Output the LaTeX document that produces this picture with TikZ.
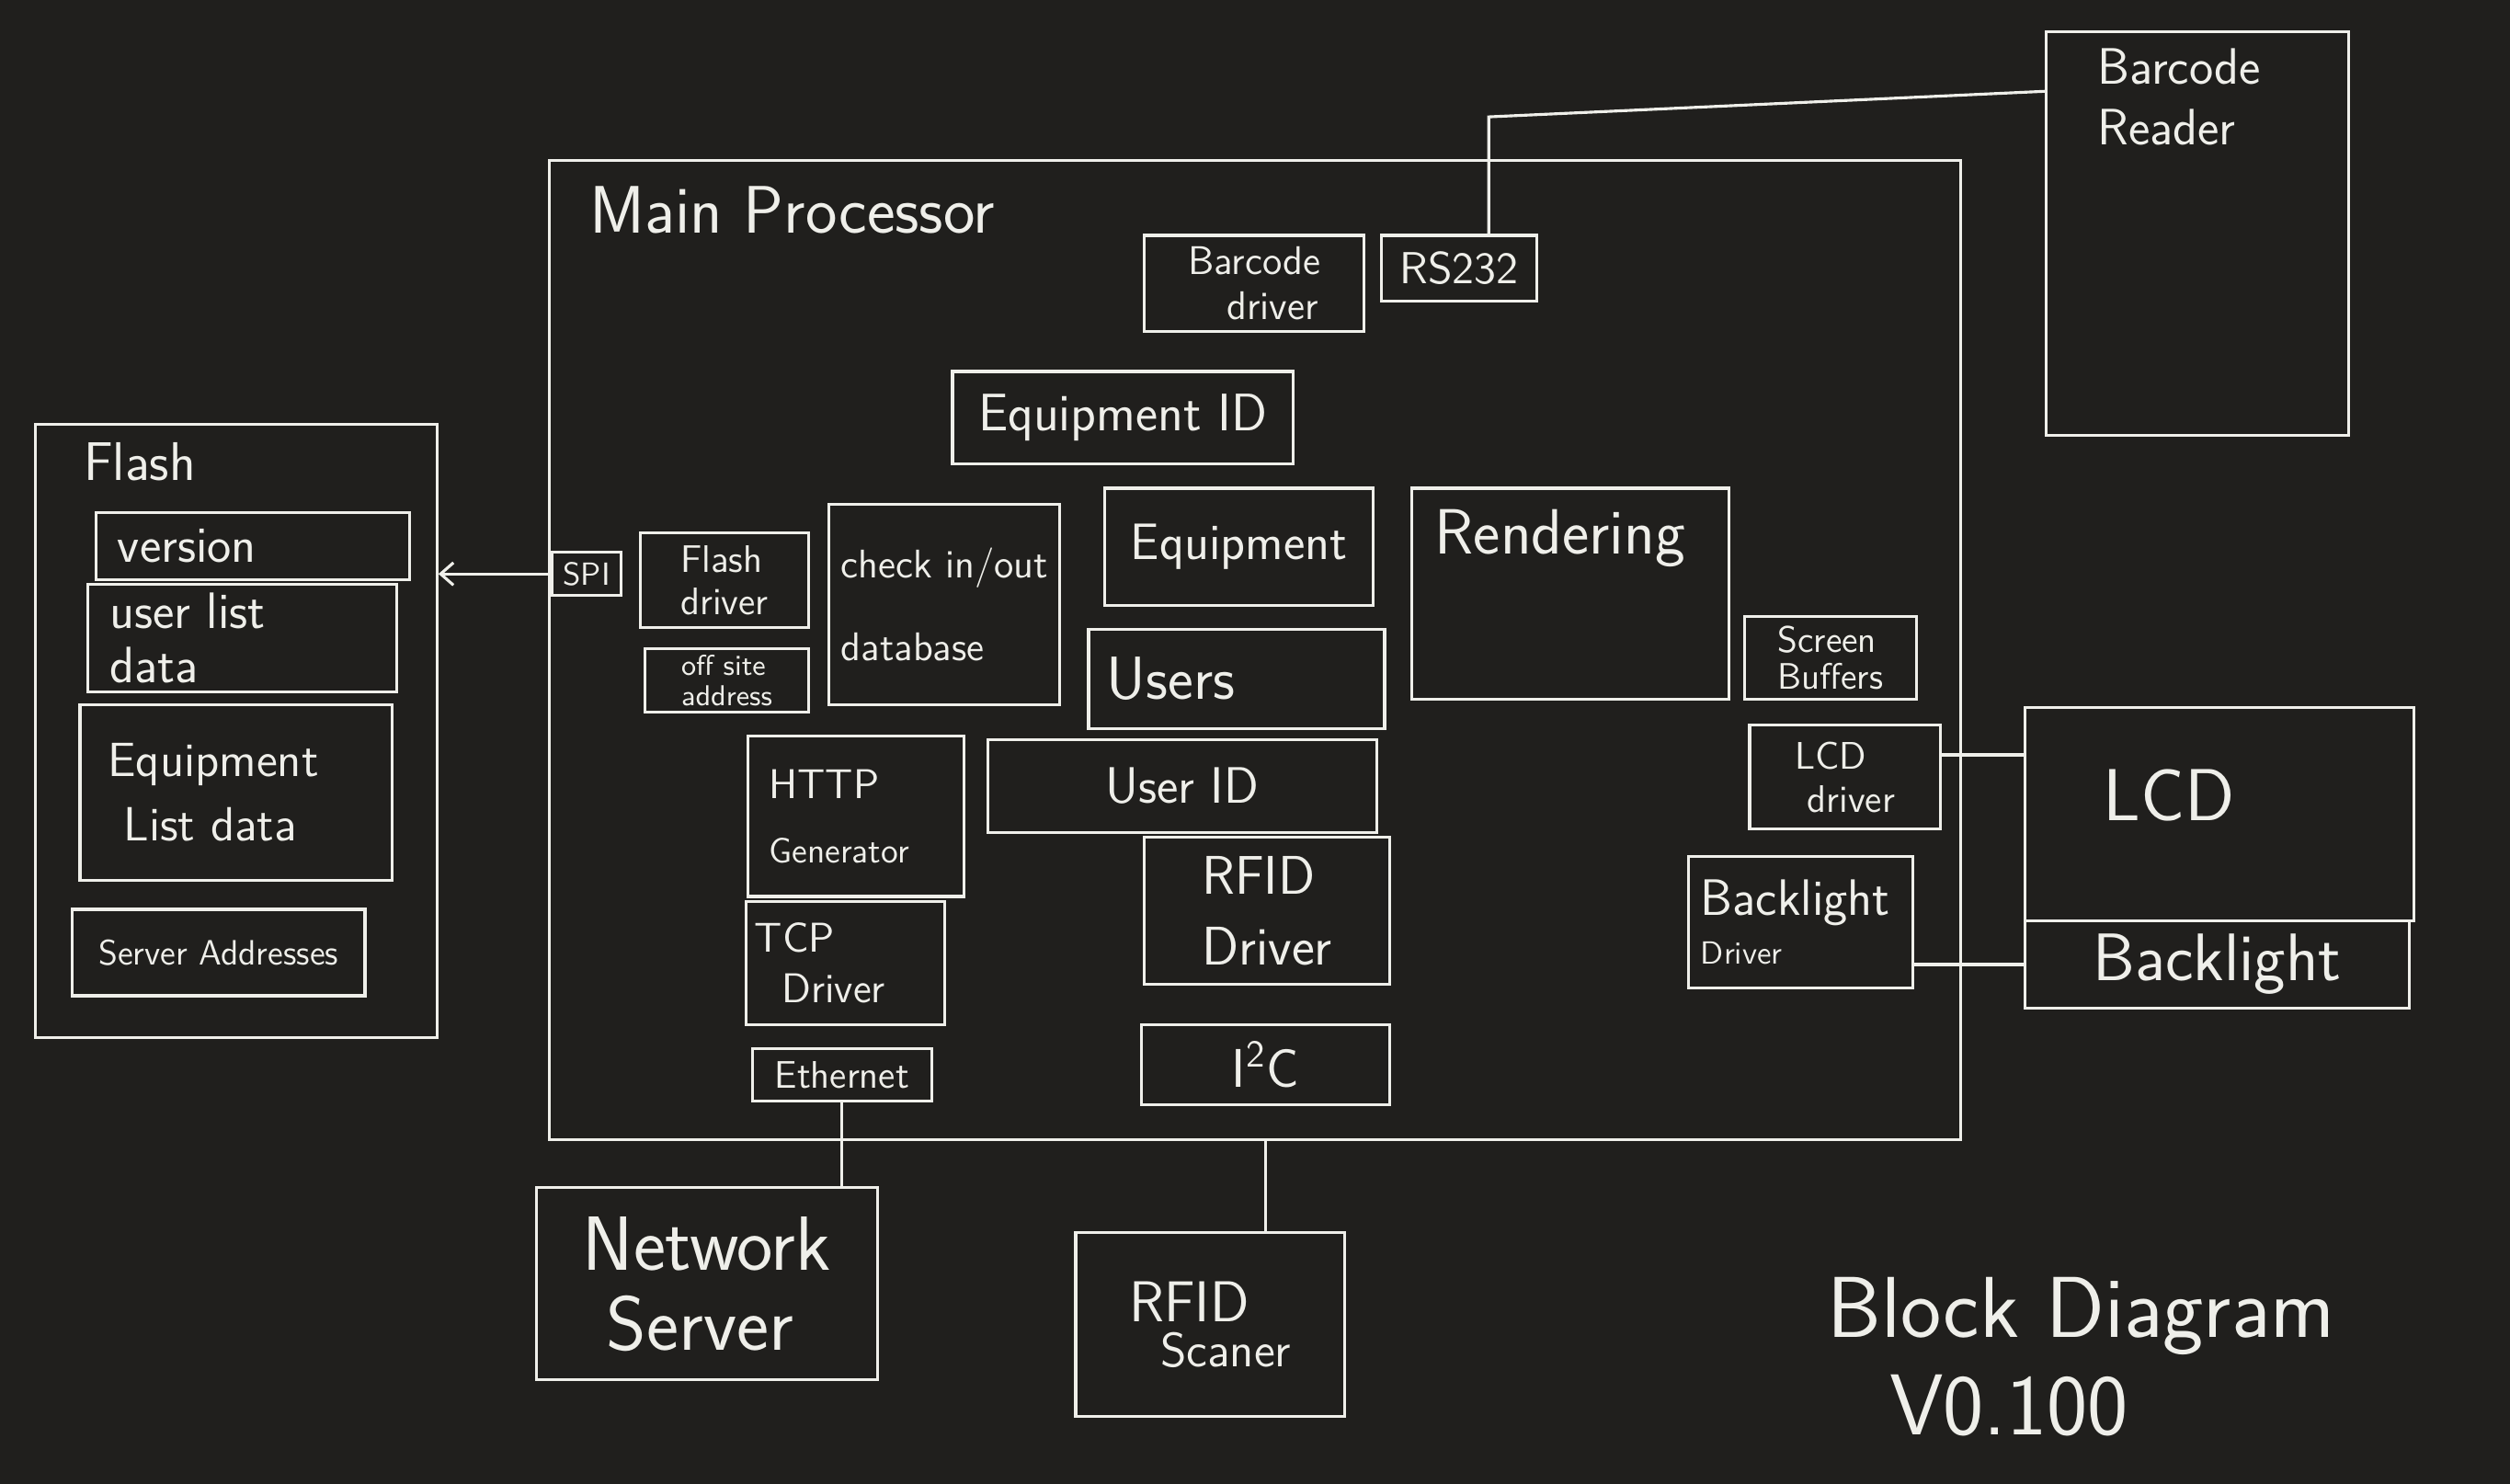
\documentclass[tikz,border=0pt]{standalone}
\usepackage{fontspec}
\usetikzlibrary{positioning,fit,arrows.meta}
\definecolor{board}{HTML}{201F1D}
\definecolor{chalk}{HTML}{EFEFEA}
\newcommand{\hwsize}[2]{\fontsize{#1}{#2}\selectfont}
\begin{document}
\begin{tikzpicture}[x=0.5pt,y=-0.5pt,
		box/.style={draw=chalk,line width=0.9pt,inner sep=0pt},
		lbl/.style={text=chalk,inner sep=0pt,align=left},
		hw/.style 2 args={font=\sffamily\hwsize{#1}{#2}},
		wire/.style={draw=chalk,line width=0.9pt}]
		\fill[board] (0,0) rectangle (1568,927);
		\useasboundingbox (0,0) rectangle (1568,927);
		
		\node[box,fit={(343,100) (1225,712)}] (main) {};
		\node[lbl,hw={21}{25},anchor=north west] (mainlbl) at (368,116) {Main Processor};
		
		\node[box,fit={(715,147) (852,207)}] (bcdrv) {};
		\node[lbl,hw={12.5}{14}] (bcdrvlbl) at (bcdrv.center) {Barcode\\\ \ \ driver};
		\node[box,fit={(863,147) (960,188)}] (rs232) {};
		\node[lbl,hw={14}{16}] (rs232lbl) at (rs232.center) {RS232};
		\node[box,fit={(595,232) (808,290)}] (equipid) {};
		\node[lbl,hw={16.5}{18}] (equipidlbl) at (equipid.center) {Equipment ID};
		
		\node[box,fit={(22,265) (273,648)}] (flash) {};
		\node[lbl,hw={17}{19},anchor=north west] (flashlbl) at (52,276) {Flash};
		\node[box,fit={(60,320) (256,362)}] (version) {};
		\node[lbl,hw={16}{18},anchor=west] (versionlbl) at ([xshift=7pt]version.west) {version};
		\node[box,fit={(55,365) (248,432)}] (userlist) {};
		\node[lbl,hw={16}{17},anchor=west] (userlistlbl) at ([xshift=7pt]userlist.west) {user list\\data};
		\node[box,fit={(50,440) (245,550)}] (equiplist) {};
		\node[lbl,hw={15}{20},anchor=west] (equiplistlbl) at ([xshift=9pt]equiplist.west) {Equipment\\\ List data};
		\node[box,fit={(45,568) (228,622)}] (servaddr) {};
		\node[lbl,hw={11}{13}] (servaddrlbl) at (servaddr.center) {Server Addresses};
		
		\node[box,fit={(345,345) (388,372)}] (spi) {};
		\node[lbl,hw={10}{11}] (spilbl) at (spi.center) {SPI};
		\node[box,fit={(400,333) (505,392)}] (flashdrv) {};
		\node[lbl,hw={12}{13}] (flashdrvlbl) at (flashdrv.center) {Flash\\driver};
		\node[box,fit={(403,405) (505,445)}] (offsite) {};
		\node[lbl,hw={9}{9.5}] (offsitelbl) at (offsite.center) {off site\\address};
		\node[box,fit={(518,315) (662,440)}] (checkdb) {};
		\node[lbl,hw={12.5}{14},anchor=west] (checkdblbl) at ([xshift=4pt]checkdb.west) {check in/out\\[12pt]database};
		\node[box,fit={(690,305) (858,378)}] (equip) {};
		\node[lbl,hw={16}{18}] (equiplbl) at (equip.center) {Equipment};
		\node[box,fit={(680,393) (865,455)}] (users) {};
		\node[lbl,hw={19}{21},anchor=west] (userslbl) at ([xshift=6pt]users.west) {Users};
		\node[box,fit={(882,305) (1080,437)}] (render) {};
		\node[lbl,hw={20}{22},anchor=north west] (renderlbl) at (896,318) {Rendering};
		\node[box,fit={(1090,385) (1197,437)}] (scrbuf) {};
		\node[lbl,hw={11.5}{11.5}] (scrbuflbl) at (scrbuf.center) {Screen\\Buffers};
		\node[box,fit={(1093,453) (1212,518)}] (lcddrv) {};
		\node[lbl,hw={12}{13.5}] (lcddrvlbl) at (lcddrv.center) {LCD\\\ driver};
		\node[box,fit={(1055,535) (1195,617)}] (bldrv) {};
		\node[lbl,anchor=west] (bldrvlbl) at ([xshift=4pt]bldrv.west) {{\sffamily\hwsize{16}{18}Backlight}\\[3pt]{\sffamily\hwsize{10}{12}Driver}};
		
		\node[box,fit={(467,460) (602,560)}] (http) {};
		\node[lbl,anchor=west] (httplbl) at ([xshift=7pt]http.west) {{\sffamily\hwsize{13}{15}HTTP}\\[8pt]{\sffamily\hwsize{11}{13}Generator}};
		\node[box,fit={(466,563) (590,640)}] (tcp) {};
		\node[lbl,hw={13}{16},anchor=west] (tcplbl) at ([xshift=3pt]tcp.west) {TCP\\\ \ Driver};
		\node[box,fit={(470,655) (582,688)}] (eth) {};
		\node[lbl,hw={12}{14}] (ethlbl) at (eth.center) {Ethernet};
		\node[box,fit={(617,462) (860,520)}] (userid) {};
		\node[lbl,hw={16}{18}] (useridlbl) at (userid.center) {User ID};
		\node[box,fit={(715,523) (868,615)}] (rfiddrv) {};
		\node[lbl,hw={17}{22}] (rfiddrvlbl) at (rfiddrv.center) {RFID\\Driver};
		\node[box,fit={(713,640) (868,690)}] (iic) {};
		\node[lbl,hw={17}{19}] (iiclbl) at (iic.center) {I\textsuperscript{2}C};
		
		\node[box,fit={(1278,20) (1467,272)}] (reader) {};
		\node[lbl,hw={16}{19},anchor=north west] (readerlbl) at (1310,30) {Barcode\\Reader};
		\node[box,fit={(1265,442) (1508,575)}] (lcd) {};
		\node[lbl,hw={23}{25}] (lcdlbl) at (1355,497) {LCD};
		\node[box,fit={(1265,575) (1505,630)}] (bl) {};
		\node[lbl,hw={21}{23}] (bllbl) at (bl.center) {Backlight};
		
		\node[box,fit={(335,742) (548,862)}] (netsrv) {};
		\node[lbl,hw={24}{25}] (netsrvlbl) at (netsrv.center) {Network\\\ Server};
		\node[box,fit={(672,770) (840,885)}] (rfidscan) {};
		\node[lbl] (rfidscanlbl) at (rfidscan.center) {{\sffamily\hwsize{18}{22}RFID}\\[2pt]{\sffamily\hwsize{15}{17}\ \ Scaner}};
		
		\node[lbl,hw={27}{29}] (title) at (1300,822) {Block Diagram};
		\node[lbl,hw={27}{29}] (version) at (1255,878) {V0.100};
		
		\coordinate (rsup) at (930,73);
		\coordinate (rdin) at (1278,57);
		\draw[wire] (rs232.north -| rsup) -- (rsup) -- (rdin);
		\draw[wire,-{Straight Barb[length=4pt,width=7pt]}] (spi.west) -- (spi.west -| flash.east);
		\draw[wire] ([yshift=7pt]lcddrv.east) -- ([yshift=7pt]lcddrv.east -| lcd.west);
		\draw[wire] (bldrv.east |- bl.west) -- (bl.west);
		\draw[wire] (eth.south) -- (eth.south |- netsrv.north);
		\draw[wire] (main.south -| iic.south) -- (rfidscan.north -| iic.south);
\end{tikzpicture}
\end{document}
